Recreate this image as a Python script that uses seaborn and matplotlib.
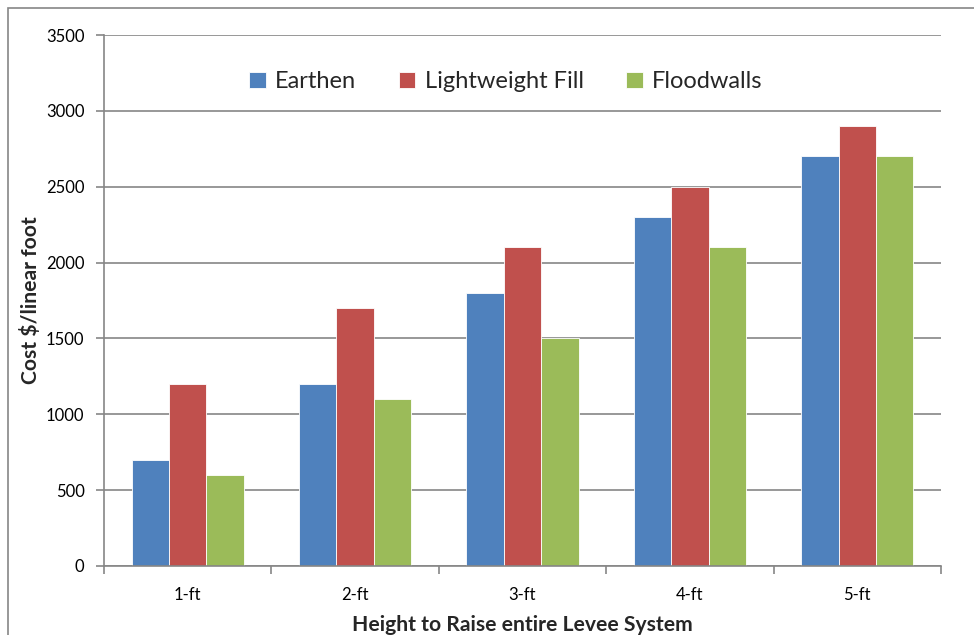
import matplotlib
matplotlib.use("Agg")
import matplotlib.pyplot as plt
import seaborn as sns
import pandas as pd
from matplotlib.patches import Rectangle

heights = ["1-ft", "2-ft", "3-ft", "4-ft", "5-ft"]
earthen = [700, 1200, 1800, 2300, 2700]
lightweight_fill = [1200, 1700, 2100, 2500, 2900]
floodwalls = [600, 1100, 1500, 2100, 2700]
series_names = ["Earthen", "Lightweight Fill", "Floodwalls"]
colors = ["#4F81BD", "#C0504D", "#9BBB59"]

df = pd.DataFrame({
    "height": heights * 3,
    "cost": earthen + lightweight_fill + floodwalls,
    "type": [series_names[0]] * 5 + [series_names[1]] * 5 + [series_names[2]] * 5,
})

sns.set_theme(style="white")
plt.rcParams["font.family"] = ["Lato", "DejaVu Sans"]

fig = plt.figure(figsize=(9.74, 6.35), dpi=100)
ax = fig.add_axes([104 / 974, 1 - 566 / 635, (941 - 104) / 974, (566 - 35) / 635])

sns.barplot(data=df, x="height", y="cost", hue="type", palette=colors,
            width=0.67, saturation=1, ax=ax, edgecolor="white", linewidth=0.6,
            legend=True)

ax.set_ylim(0, 3500)
ax.set_xlim(-0.5, 4.5)
ax.set_yticks(range(0, 3501, 500))
ax.yaxis.grid(True, color="#868686", linewidth=1.2)
ax.set_axisbelow(True)
for s in ["top", "right"]:
    ax.spines[s].set_visible(False)
for s in ["left", "bottom"]:
    ax.spines[s].set_color("#868686")
    ax.spines[s].set_linewidth(1.2)

# category ticks at group boundaries, labels centered
ax.set_xticks([i - 0.5 for i in range(6)], minor=False)
ax.set_xticklabels([])
ax.set_xticks(range(5), minor=True)
ax.set_xticklabels(heights, minor=True)
ax.tick_params(axis="x", which="major", length=6, width=1.2, color="#868686", direction="out")
ax.tick_params(axis="x", which="minor", length=0, labelsize=12, pad=15, labelcolor="black")
ax.tick_params(axis="y", length=6, width=1.2, color="#868686", direction="out",
               labelsize=12, pad=8, labelcolor="black")
ax.tick_params(bottom=True, left=True, which="major")

ax.set_xlabel("Height to Raise entire Levee System", fontsize=15.2, fontweight="bold",
              labelpad=9)
ax.set_ylabel("Cost $/linear foot", fontsize=15.2, fontweight="bold", labelpad=4)

leg = ax.legend(loc="upper center", bbox_to_anchor=(0.48, 0.972), ncol=3, frameon=False,
                fontsize=17, handlelength=0.7, handleheight=0.7, handletextpad=0.4,
                columnspacing=1.8)

# outer chart border
fig.patches.append(Rectangle((8 / 974, -0.05), 1.1, 1 - 8 / 635 + 0.05,
                             transform=fig.transFigure, fill=False,
                             edgecolor="#868686", linewidth=1.2))

fig.savefig("out.png", dpi=100)
